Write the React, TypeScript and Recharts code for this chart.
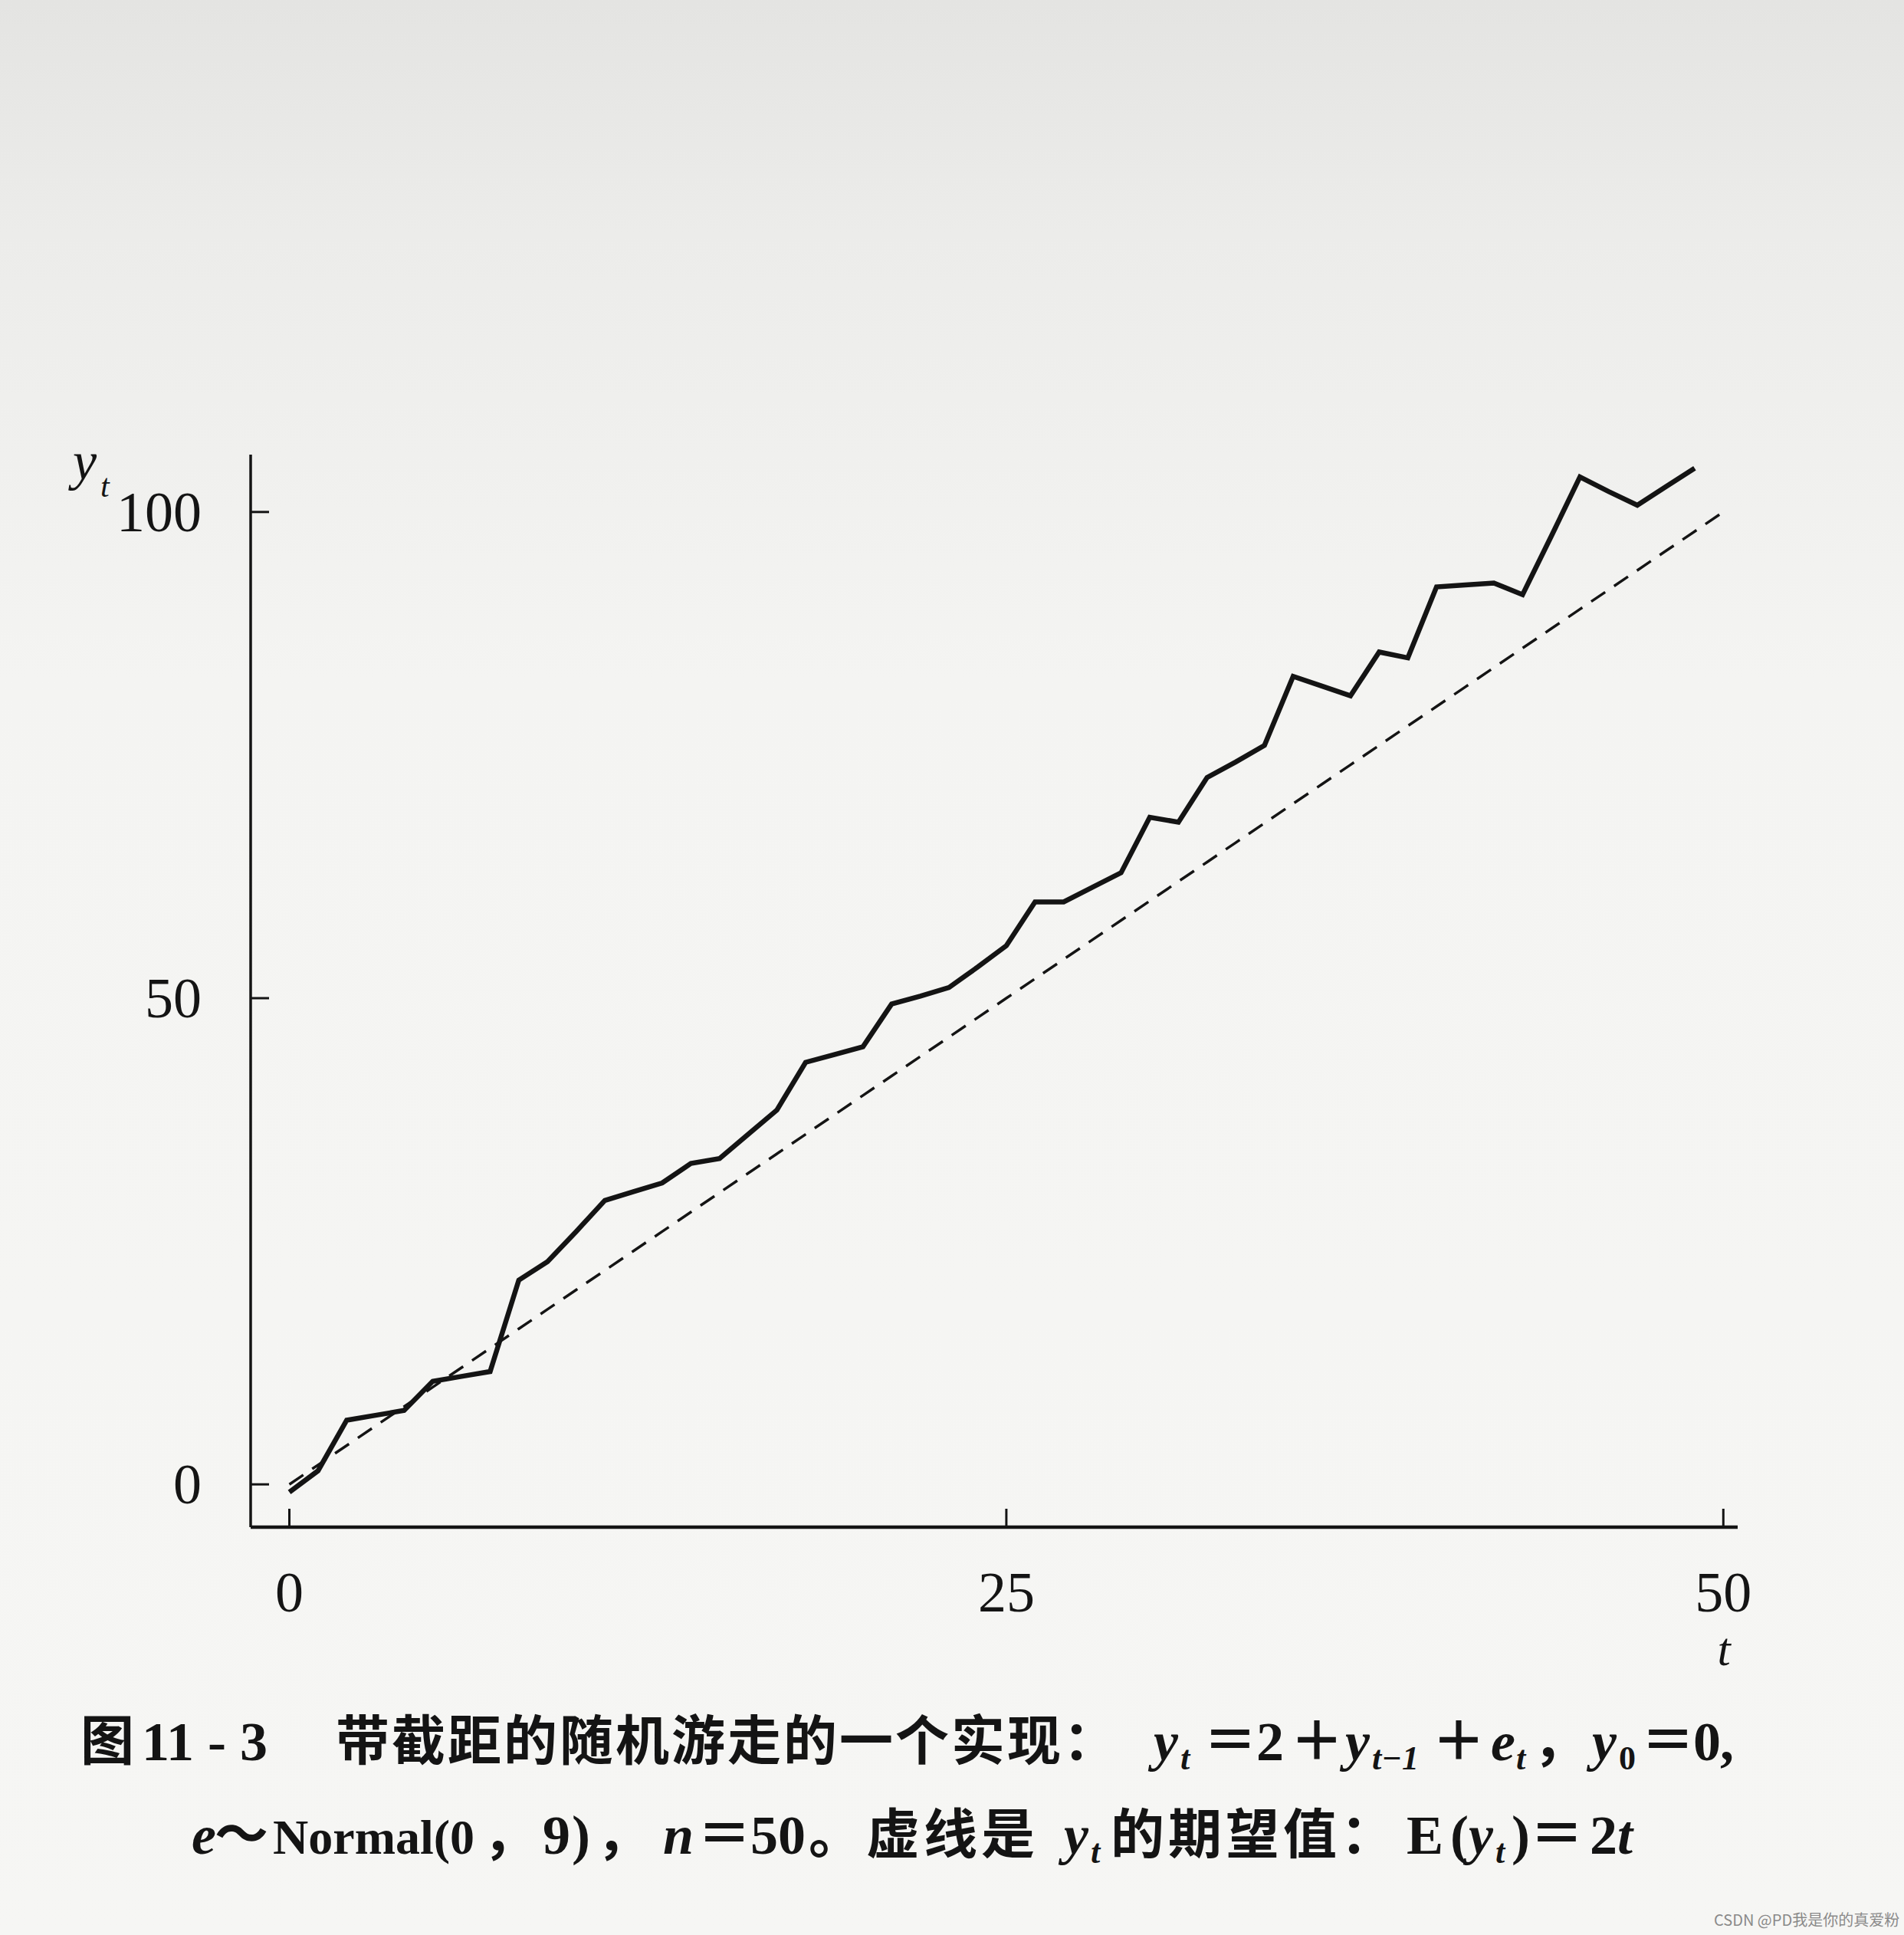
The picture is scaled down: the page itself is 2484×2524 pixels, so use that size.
import { LineChart, Line, XAxis, YAxis } from 'recharts';

// t = 0..50
const T = [0, 1, 2, 3, 4, 5, 6, 7, 8, 9, 10, 11, 12, 13, 14, 15, 16, 17, 18, 19, 20, 21, 22, 23, 24, 25,
  26, 27, 28, 29, 30, 31, 32, 33, 34, 35, 36, 37, 38, 39, 40, 41, 42, 43, 44, 45, 46, 47, 48, 49, 50];

// one realisation of y_t
const WALK = [-0.8, 1.4, 6.6, 7.1, 7.6, 10.6, 11.1, 11.6, 21.0, 22.9, 26.0, 29.2, 30.1, 31.0, 33.0, 33.5,
  36.0, 38.5, 43.4, 44.2, 45.0, 49.4, 50.2, 51.1, 53.2, 55.4, 59.9, 59.9, 61.4, 62.9, 68.6, 68.1, 72.7,
  74.3, 76.0, 83.1, 82.1, 81.1, 85.6, 85.0, 92.3, 92.5, 92.7, 91.5, 97.5, 103.6, 102.1, 100.7, 102.6,
  104.5, null];

// E(y_t) = 2t
const EXPECTED = [0, 2, 4, 6, 8, 10, 12, 14, 16, 18, 20, 22, 24, 26, 28, 30, 32, 34, 36, 38, 40, 42, 44,
  46, 48, 50, 52, 54, 56, 58, 60, 62, 64, 66, 68, 70, 72, 74, 76, 78, 80, 82, 84, 86, 88, 90, 92, 94, 96,
  98, 100];

const X_TICKS = [0, 25, 50];
const Y_TICKS = [0, 50, 100];

const data = T.map((t, i) => ({ t, y: WALK[i], ey: EXPECTED[i] }));

const INK = '#141414';
const SERIF = "'Liberation Serif', 'DejaVu Serif', serif";
const CJK = "'Noto Sans CJK SC', 'Noto Sans', sans-serif";

function XTick({ x, y, payload }: any) {
  return (
    <g>
      <line x1={x} y1={y} x2={x} y2={y - 24} stroke={INK} strokeWidth={3} />
      <text x={x} y={y + 110} textAnchor="middle" fontFamily={SERIF} fontSize={74} fill={INK}>
        {payload.value}
      </text>
    </g>
  );
}

function YTick({ x, y, payload }: any) {
  return (
    <g>
      <line x1={x} y1={y} x2={x + 24} y2={y} stroke={INK} strokeWidth={3} />
      <text x={x - 64} y={y + 25} textAnchor="end" fontFamily={SERIF} fontSize={74} fill={INK}>
        {payload.value}
      </text>
    </g>
  );
}

// serif bold pieces of the caption
function S({ x, y, children, italic = false, size = 72 }: any) {
  return (
    <text x={x} y={y} fontFamily={SERIF} fontWeight={700} fontStyle={italic ? 'italic' : 'normal'}
      fontSize={size} fill={INK}>
      {children}
    </text>
  );
}

// CJK bold pieces of the caption
function C({ x, y, children, spacing = 0 }: any) {
  return (
    <text x={x} y={y} fontFamily={CJK} fontWeight={700} fontSize={70} letterSpacing={spacing} fill={INK}>
      {children}
    </text>
  );
}

export default function App() {
  const L1 = 2296;
  const L2 = 2418;
  return (
    <div
      style={{
        position: 'absolute', left: 0, top: 0, width: 2484, height: 2524, overflow: 'hidden',
        background: 'linear-gradient(180deg, #e4e4e2 0%, #ececea 12%, #f4f4f2 35%, #f6f6f4 100%)',
      }}
    >
      <LineChart width={2484} height={2524} data={data}
        margin={{ top: 593, right: 217, bottom: 472, left: 267 }}>
        <XAxis dataKey="t" type="number" domain={[-1.35, 50.5]} ticks={X_TICKS} allowDataOverflow
          height={60} tickSize={0} tickMargin={0} tickLine={false}
          axisLine={{ stroke: INK, strokeWidth: 4.5 }} tick={<XTick />} />
        <YAxis type="number" domain={[-4.4, 105.9]} ticks={Y_TICKS} allowDataOverflow
          width={60} tickSize={0} tickMargin={0} tickLine={false}
          axisLine={{ stroke: INK, strokeWidth: 3.5 }} tick={<YTick />} />
        <Line type="linear" dataKey="ey" stroke={INK} strokeWidth={3.5} strokeDasharray="22 14"
          dot={false} isAnimationActive={false} />
        <Line type="linear" dataKey="y" stroke={INK} strokeWidth={6.5} dot={false}
          strokeLinejoin="miter" isAnimationActive={false} />
      </LineChart>

      <svg width={2484} height={2524} style={{ position: 'absolute', left: 0, top: 0, pointerEvents: 'none' }}>
        {/* axis names */}
        <text x={95} y={625} fontFamily={SERIF} fontStyle="italic" fontSize={70} fill={INK}>y</text>
        <text x={131} y={648} fontFamily={SERIF} fontStyle="italic" fontSize={42} fill={INK}>t</text>
        <text x={2249} y={2172} textAnchor="middle" fontFamily={SERIF} fontStyle="italic" fontSize={62} fill={INK}>t</text>

        {/* caption line 1 */}
        <C x={105} y={L1}>图</C>
        <S x={185} y={L1}>11 - 3</S>
        <C x={438} y={L1} spacing={3}>带截距的随机游走的一个实现：</C>
        <S x={1505} y={L1} italic>y</S>
        <S x={1540} y={L1 + 12} italic size={44}>t</S>
        <C x={1570} y={L1}>＝</C>
        <S x={1639} y={L1}>2</S>
        <C x={1683} y={L1}>＋</C>
        <S x={1755} y={L1} italic>y</S>
        <S x={1790} y={L1 + 12} italic size={44}>t−1</S>
        <C x={1868} y={L1}>＋</C>
        <S x={1945} y={L1} italic>e</S>
        <S x={1978} y={L1 + 12} italic size={44}>t</S>
        <C x={2000} y={L1}>，</C>
        <S x={2077} y={L1} italic>y</S>
        <S x={2112} y={L1 + 12} size={44}>0</S>
        <C x={2141} y={L1}>＝</C>
        <S x={2209} y={L1}>0</S>
        <S x={2244} y={L1}>,</S>

        {/* caption line 2 */}
        <S x={250} y={L2} italic>e</S>
        <C x={280} y={L2}>～</C>
        <S x={356} y={L2} size={64}>Normal(0</S>
        <C x={630} y={L2}>，</C>
        <S x={708} y={L2}>9</S>
        <S x={746} y={L2}>)</S>
        <C x={778} y={L2}>，</C>
        <S x={865} y={L2} italic>n</S>
        <C x={910} y={L2}>＝</C>
        <S x={979} y={L2}>50</S>
        <C x={1055} y={L2} spacing={5}>。虚线是</C>
        <S x={1388} y={L2} italic>y</S>
        <S x={1423} y={L2 + 12} italic size={44}>t</S>
        <C x={1449} y={L2} spacing={5}>的期望值：</C>
        <S x={1835} y={L2}>E</S>
        <S x={1892} y={L2}>(</S>
        <S x={1916} y={L2} italic>y</S>
        <S x={1951} y={L2 + 12} italic size={44}>t</S>
        <S x={1972} y={L2}>)</S>
        <C x={1996} y={L2}>＝</C>
        <S x={2074} y={L2}>2</S>
        <S x={2110} y={L2} italic>t</S>

        <text x={2236} y={2512} fontFamily={CJK} fontSize={20} fill="#8a8a8a">CSDN @PD我是你的真爱粉</text>
      </svg>
    </div>
  );
}
